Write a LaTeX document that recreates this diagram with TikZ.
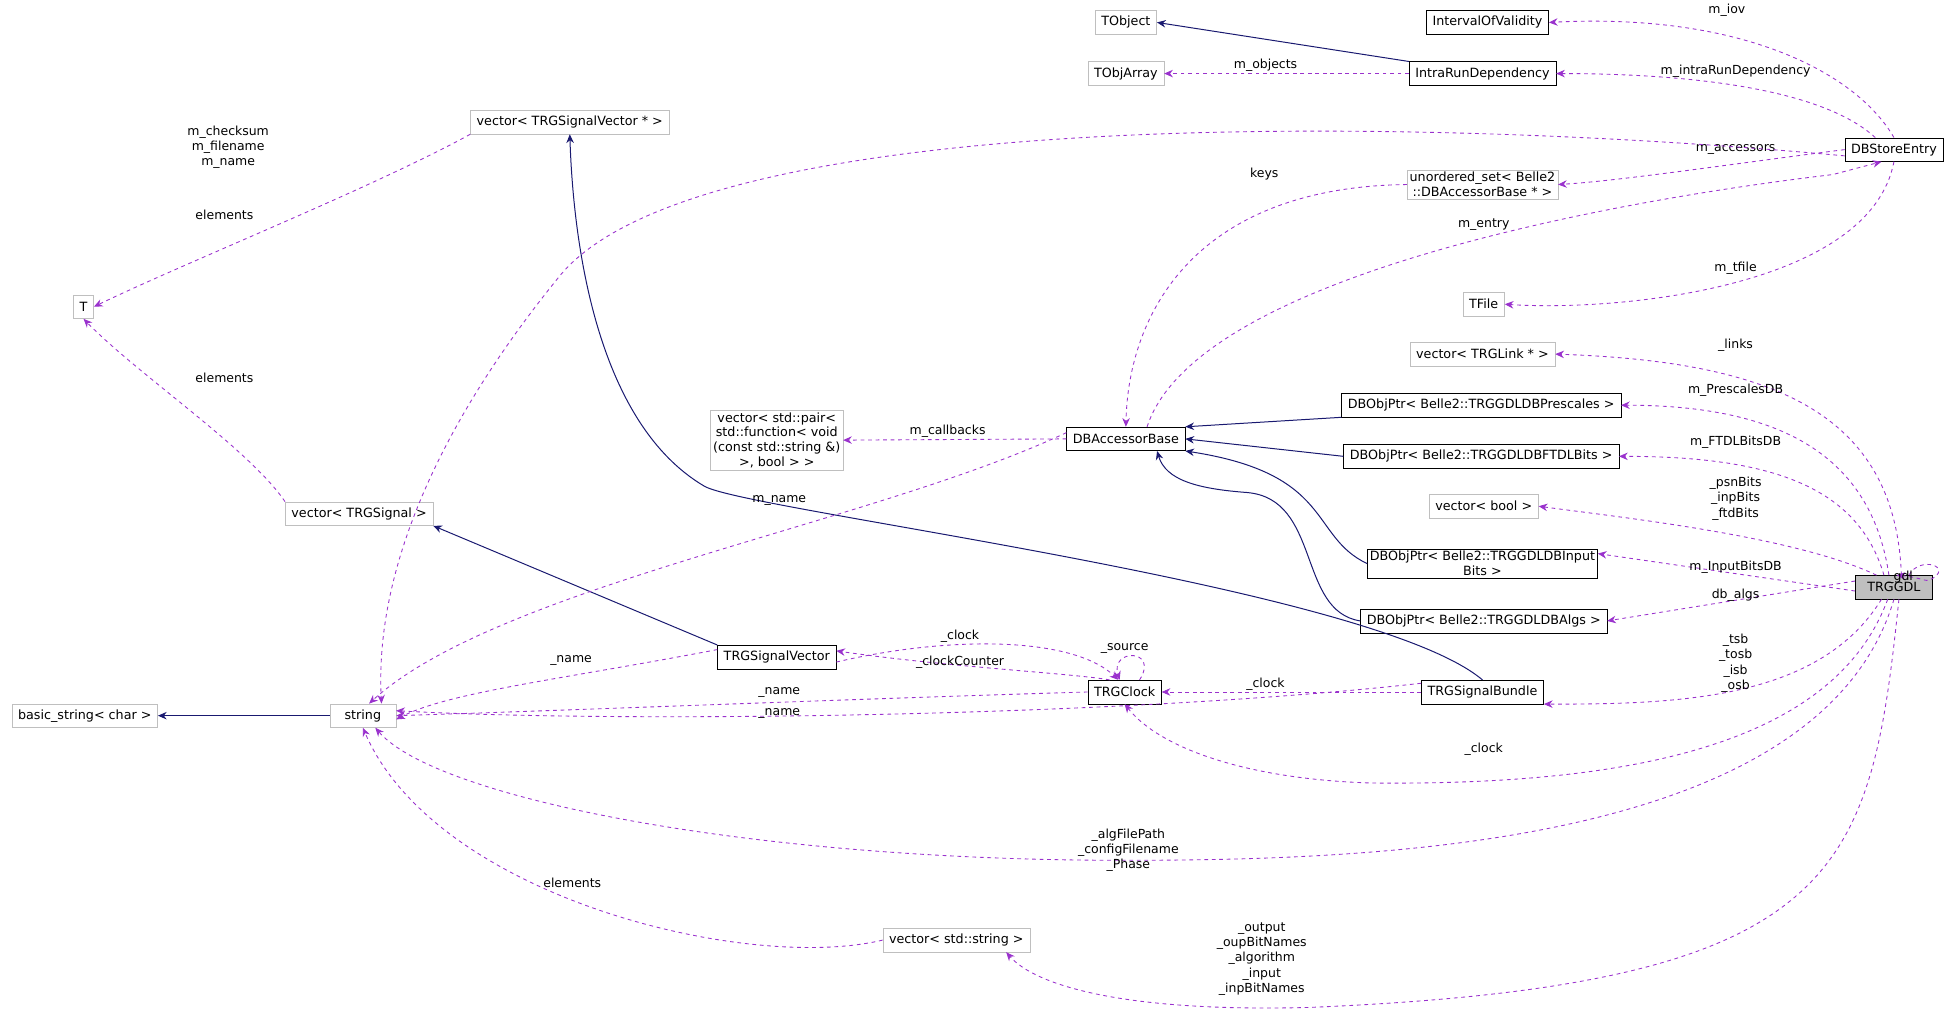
\documentclass[tikz,border=0pt]{standalone}
\usepackage{fontspec}
\setmainfont{DejaVu Sans}
\usetikzlibrary{arrows.meta}
\definecolor{purp}{HTML}{9A32CD}
\definecolor{navy}{HTML}{191970}
\definecolor{gbord}{HTML}{BFBFBF}
\tikzset{
 box/.style={draw=black,fill=white,font=\fontsize{10.2}{11.8}\selectfont,inner xsep=5pt,inner ysep=2pt,minimum height=19pt,align=center},
 gbox/.style={box,draw=gbord},
 use/.style={draw=purp,dashed,line width=0.7pt,-{Stealth[length=7pt,width=6pt]}},
 inh/.style={draw=navy,line width=0.8pt,-{Stealth[length=7pt,width=6pt]}},
 lbl/.style={font=\fontsize{10}{12.3}\selectfont,align=center,inner sep=0pt},
}
\begin{document}
\begin{tikzpicture}[x=1pt,y=-1pt]
\useasboundingbox (0,0) rectangle (1568,814);
\node[gbox] (TObject) at (903,18) {TObject};
\node[box] (IOV) at (1193,18) {IntervalOfValidity};
\node[gbox] (TObjArray) at (903,59) {TObjArray};
\node[box] (IRD) at (1189,59) {IntraRunDependency};
\node[gbox] (vSV) at (457,98) {vector< TRGSignalVector * >};
\node[box] (DBSE) at (1519,120) {DBStoreEntry};
\node[gbox,inner sep=2pt] (uset) at (1189,148) {unordered\_set< Belle2\\::DBAccessorBase * >};
\node[gbox] (T) at (67,246) {T};
\node[gbox] (TFile) at (1190,244) {TFile};
\node[gbox] (vLink) at (1189,284) {vector< TRGLink * >};
\node[box] (Pres) at (1188,325) {DBObjPtr< Belle2::TRGGDLDBPrescales >};
\node[gbox,inner sep=2pt] (vpair) at (623,353) {vector< std::pair<\\ std::function< void\\ (const std::string \&)\\ >, bool > >};
\node[box] (DBAB) at (903,352) {DBAccessorBase};
\node[box] (FTDL) at (1188,366) {DBObjPtr< Belle2::TRGGDLDBFTDLBits >};
\node[gbox] (vbool) at (1190,406) {vector< bool >};
\node[gbox] (vSig) at (288,412) {vector< TRGSignal >};
\node[box,inner sep=2pt] (Inp) at (1189,452) {DBObjPtr< Belle2::TRGGDLDBInput\\Bits >};
\node[box,fill=gbord,minimum width=62pt] (GDL) at (1519,471) {TRGGDL};
\node[box] (Algs) at (1190,498) {DBObjPtr< Belle2::TRGGDLDBAlgs >};
\node[box] (SV) at (623,527) {TRGSignalVector};
\node[box] (Clk) at (902,555) {TRGClock};
\node[box] (SB) at (1189,555) {TRGSignalBundle};
\node[gbox] (bstr) at (68,574) {basic\_string< char >};
\node[gbox,minimum width=53pt] (str) at (291,574) {string};
\node[gbox] (vstr) at (767,754) {vector< std::string >};

% inheritance
\draw[inh] (IRD.north west) -- (TObject.east);
\draw[inh] (SB.north) .. controls (1100,470) and (600,410) .. (565,390) .. controls (480,340) and (460,200) .. (vSV.south);
\draw[inh] (SV.north west) -- (vSig.south east);
\draw[inh] (str.west) -- (bstr.east);
\draw[inh] (Pres.south west) -- (DBAB.north east);
\draw[inh] (FTDL.west) -- (DBAB.east);
\draw[inh] (Inp.west) .. controls (1050,430) and (1070,380) .. (DBAB.south east);
\draw[inh] (Algs.west) .. controls (1040,490) and (1060,400) .. (1000,395) .. controls (960,392) and (935,385) .. ([xshift=25pt]DBAB.south);

% usage
\draw[use] (DBSE.north) .. controls (1490,60) and (1400,10) .. (IOV.east);
\node[lbl] at (1385,8) {m\_iov};
\draw[use] ([xshift=-15pt]DBSE.north) .. controls (1460,70) and (1350,59) .. (IRD.east);
\node[lbl] at (1392,57) {m\_intraRunDependency};
\draw[use] (IRD.west) -- (TObjArray.east);
\node[lbl] at (1015,52) {m\_objects};
\draw[use] (DBSE.west) .. controls (1400,130) and (1300,145) .. (uset.east);
\node[lbl] at (1392,120) {m\_accessors};
\draw[use] ([yshift=-5pt]DBSE.west) .. controls (1100,90) and (560,90) .. (450,220) .. controls (360,330) and (300,450) .. ([xshift=15pt]str.north);
\node[lbl] at (183,118) {m\_checksum\\m\_filename\\m\_name};
\draw[use] (vSV.south west) .. controls (300,150) and (150,210) .. (T.east);
\node[lbl] at (180,172) {elements};
\draw[use] (vSig.north west) .. controls (200,360) and (110,300) .. (T.south);
\node[lbl] at (180,303) {elements};
\draw[use] (uset.west) .. controls (960,150) and (905,250) .. (DBAB.north);
\node[lbl] at (1014,140) {keys};
\draw[use] ([xshift=17pt]DBAB.north) .. controls (960,220) and (1300,160) .. (1470,140) -- ([xshift=-10pt]DBSE.south);
\node[lbl] at (1190,180) {m\_entry};
\draw[use] (DBSE.south) .. controls (1500,230) and (1300,250) .. (TFile.east);
\node[lbl] at (1392,215) {m\_tfile};
\draw[use] ([xshift=6pt]GDL.north) .. controls (1520,330) and (1420,290) .. (vLink.east);
\node[lbl] at (1392,277) {\_links};
\draw[use] ([xshift=-4pt]GDL.north) .. controls (1500,360) and (1420,325) .. (Pres.east);
\node[lbl] at (1392,313) {m\_PrescalesDB};
\draw[use] ([xshift=-8pt]GDL.north) .. controls (1490,390) and (1420,366) .. (FTDL.east);
\node[lbl] at (1392,355) {m\_FTDLBitsDB};
\draw[use] ([xshift=-14pt]GDL.north) .. controls (1440,430) and (1300,415) .. (vbool.east);
\node[lbl] at (1392,400) {\_psnBits\\\_inpBits\\\_ftdBits};
\draw[use] ([xshift=12pt]GDL.north) .. controls (1540,445) and (1568,455) .. (1548,465) .. controls (1545,467) and (1540,463) .. ([xshift=2pt]GDL.north);
\node[lbl] at (1524,463) {\_gdl};
\draw[use] ([yshift=-3pt]GDL.west) -- ([yshift=8pt]Inp.east);
\node[lbl] at (1392,455) {m\_InputBitsDB};
\draw[use] ([yshift=5pt]GDL.west) -- (Algs.east);
\node[lbl] at (1392,477) {db\_algs};
\draw[use] ([xshift=-10pt]GDL.south) .. controls (1460,560) and (1350,565) .. (SB.south east);
\node[lbl] at (1392,532) {\_tsb\\\_tosb\\\_isb\\\_osb};
\draw[use] ([xshift=-5pt]GDL.south) .. controls (1470,600) and (1300,630) .. (1100,628) .. controls (1000,625) and (930,600) .. (Clk.south);
\node[lbl] at (1190,601) {\_clock};
\draw[use] (GDL.south) .. controls (1460,680) and (1100,690) .. (900,690) .. controls (600,690) and (350,640) .. ([xshift=10pt]str.south);
\node[lbl] at (905,682) {\_algFilePath\\\_configFilename\\\_Phase};
\draw[use] ([xshift=4pt]GDL.south) .. controls (1500,700) and (1480,790) .. (1050,808) .. controls (900,812) and (830,790) .. ([xshift=40pt]vstr.south);
\node[lbl] at (1012,769) {\_output\\\_oupBitNames\\\_algorithm\\\_input\\\_inpBitNames};
\draw[use] (vstr.west) .. controls (600,780) and (350,720) .. (str.south);
\node[lbl] at (459,708) {elements};
\draw[use] (DBAB.west) -- (vpair.east);
\node[lbl] at (760,346) {m\_callbacks};
\draw[use] ([yshift=5pt]DBAB.west) .. controls (700,420) and (400,470) .. ([xshift=5pt]str.north);
\node[lbl] at (625,401) {m\_name};
\draw[use] ([yshift=-4pt]SV.east) .. controls (760,510) and (860,510) .. ([xshift=-5pt]Clk.north);
\node[lbl] at (770,510) {\_clock};
\draw[use] ([xshift=-12pt]Clk.north) .. controls (860,540) and (760,535) .. ([yshift=5pt]SV.east);
\node[lbl] at (770,531) {\_clockCounter};
\draw[use] ([xshift=12pt]Clk.north) .. controls (930,520) and (890,520) .. ([xshift=-4pt]Clk.north);
\node[lbl] at (902,520) {\_source};
\draw[use] ([yshift=6pt]SV.west) .. controls (450,545) and (360,555) .. ([yshift=-3pt]str.east);
\node[lbl] at (458,530) {\_name};
\draw[use] (Clk.west) .. controls (700,560) and (450,570) .. (str.east);
\node[lbl] at (625,555) {\_name};
\draw[use] (SB.west) -- (Clk.east);
\node[lbl] at (1015,549) {\_clock};
\draw[use] ([yshift=7pt]SB.west) .. controls (900,575) and (500,580) .. ([yshift=4pt]str.east);
\node[lbl] at (625,572) {\_name};
\end{tikzpicture}
\end{document}
